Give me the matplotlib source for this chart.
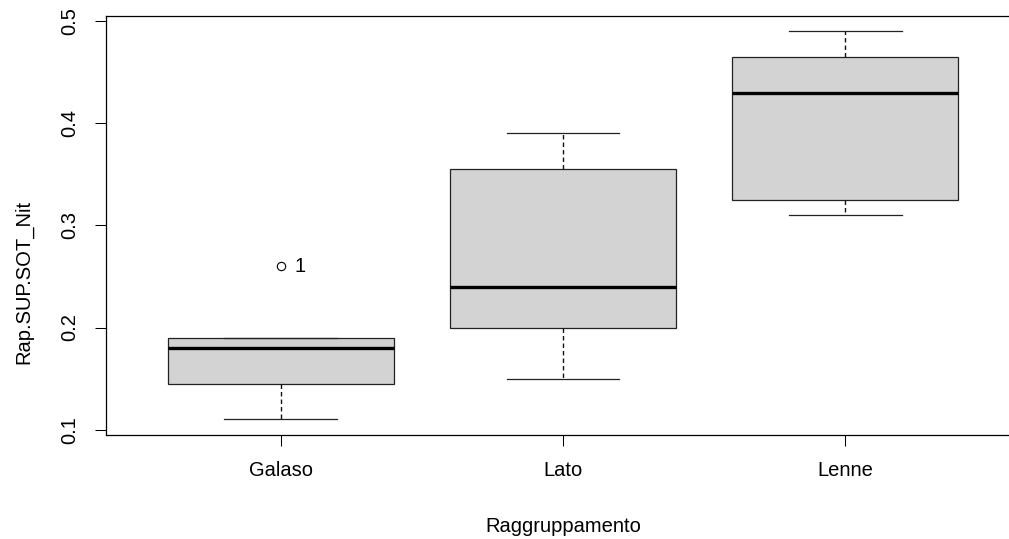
import matplotlib
matplotlib.use("Agg")
import matplotlib.pyplot as plt

plt.rcParams['font.family'] = ['Liberation Sans', 'DejaVu Sans']

gruppi = ['Galaso', 'Lato', 'Lenne']
whislo = [0.11, 0.15, 0.31]
q1 = [0.145, 0.20, 0.325]
med = [0.18, 0.24, 0.43]
q3 = [0.19, 0.355, 0.465]
whishi = [0.19, 0.39, 0.49]
fliers = [[0.26], [], []]
flier_label = '1'
y_ticks = [0.1, 0.2, 0.3, 0.4, 0.5]

stats = []
for i, g in enumerate(gruppi):
    stats.append(dict(label=g, whislo=whislo[i], q1=q1[i], med=med[i],
                      q3=q3[i], whishi=whishi[i], fliers=fliers[i]))

fig = plt.figure(figsize=(10.09, 5.39), dpi=100)
# la cornice a destra esce dall'immagine (grafico R ritagliato)
ax = fig.add_axes([106 / 1009, 104 / 539, 914 / 1009, 419.3 / 539])

pos = [1, 2, 3]
ax.bxp(stats, positions=pos, widths=0.8, patch_artist=True,
       boxprops=dict(facecolor='#d3d3d3', edgecolor='#222222', linewidth=0.9),
       medianprops=dict(color='black', linewidth=2.4, solid_capstyle='butt'),
       whiskerprops=dict(color='#111111', linewidth=1.0, linestyle=(0, (3.2, 2.2))),
       capprops=dict(color='#222222', linewidth=0.9),
       capwidths=0.4,
       flierprops=dict(marker='o', markersize=6, markerfacecolor='none',
                       markeredgecolor='black', markeredgewidth=0.8))

# etichetta dell'outlier
ax.annotate(flier_label, (pos[0], fliers[0][0]), xytext=(10, 0),
            textcoords='offset points', ha='left', va='center', fontsize=14.5)

ax.set_xlim(0.38, 3.62)
ax.set_ylim(0.0948, 0.5052)
ax.set_yticks(y_ticks)
ax.set_yticklabels([str(t) for t in y_ticks], rotation=90, va='center')
ax.set_xticks(pos)
ax.set_xticklabels(gruppi)
ax.tick_params(axis='both', length=8, width=0.75, labelsize=14.5, color='black')
ax.tick_params(axis='x', pad=11)
ax.tick_params(axis='y', pad=11)
for s in ax.spines.values():
    s.set_linewidth(0.9)

fig.text(563.5 / 1009, 1 - 527 / 539, 'Raggruppamento', ha='center', va='center', fontsize=14.5)
fig.text(24 / 1009, 1 - 282 / 539, 'Rap.SUP.SOT_Nit', ha='center', va='center',
         rotation=90, fontsize=14.5)

fig.savefig('out.png', dpi=100)
